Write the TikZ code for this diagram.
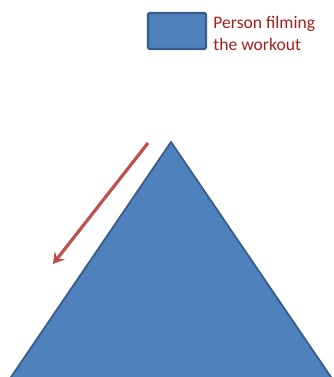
\documentclass[tikz,border=0pt]{standalone}
\usepackage{fontspec}
\setmainfont{Carlito}
\usetikzlibrary{positioning,arrows.meta}
\definecolor{boxblue}{HTML}{4F81BD}
\definecolor{edgeblue}{HTML}{385D8A}
\definecolor{arrowred}{HTML}{C0504D}
\definecolor{labelred}{HTML}{A3201D}

\begin{document}
\begin{tikzpicture}[x=1pt,y=-1pt,
  legendbox/.style={fill=boxblue,draw=edgeblue,line width=2.4pt,rounded corners=1.5pt,minimum width=58pt,minimum height=36pt,inner sep=0pt},
  legendtext/.style={text=labelred,font=\fontsize{17.6}{22}\selectfont,align=left,inner sep=0pt}]
\useasboundingbox (0,0) rectangle (334,377);
\begin{scope}
\clip (0,0) rectangle (334,377);
% hill
\coordinate (apex) at (171,142);
\coordinate (footL) at (-8,405);
\coordinate (footR) at (350,405);
\fill[boxblue,draw=edgeblue,line width=1.8pt,line join=round] (footL) -- (apex) -- (footR) -- cycle;
\end{scope}
% legend
\node[legendbox] (key) at (177,31) {};
\node[legendtext,right=6pt of key.east,anchor=west,yshift=-2pt] (keytext) {Person filming\\the workout};
% direction of the walk
\coordinate (start) at (148,143);
\coordinate (stop) at (53,264);
\draw[arrowred,line width=3.2pt,-{Stealth[length=11pt,width=13pt,inset=4pt]}] (start) -- (stop);
\end{tikzpicture}
\end{document}
